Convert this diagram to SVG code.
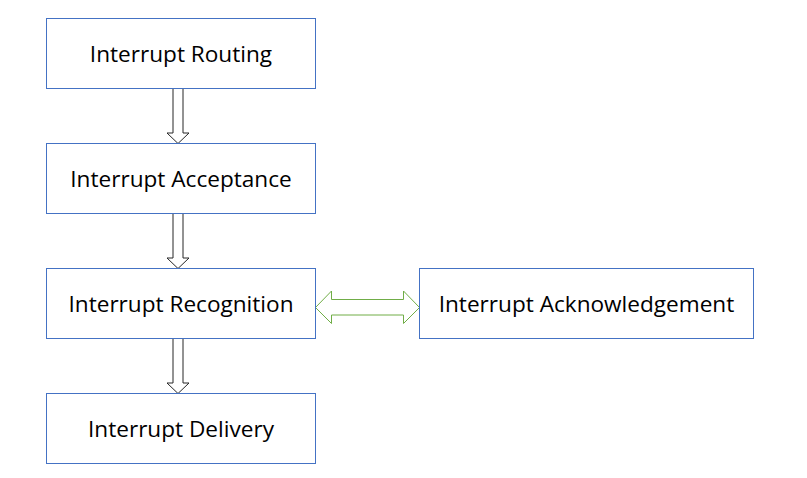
<svg xmlns="http://www.w3.org/2000/svg" width="807" height="478" viewBox="0 0 807 478">
<style>
.box{fill:#fff;stroke:#4472C4;stroke-width:1}
.lbl{font-family:"Open Sans","Liberation Sans",sans-serif;font-size:22.6px;fill:#000;text-anchor:middle}
.down{fill:#fff;stroke:#262626;stroke-width:1}
.dbl{fill:#fff;stroke:#70AD47;stroke-width:1}
</style>
<rect width="807" height="478" fill="#fff"/>
<g id="connectors">
<path class="down" d="M173,88.5 H183 V133 H189 L178,143.5 L167,133 H173 Z"/>
<path class="down" d="M173,213.5 H183 V258 H189 L178,268.5 L167,258 H173 Z"/>
<path class="down" d="M173,338.5 H183 V383 H189 L178,393.5 L167,383 H173 Z"/>
<path class="dbl" d="M315.5,307.5 L331.5,291 V299.5 H403.5 V291 L419.5,307.5 L403.5,323.5 V315 H331.5 V323.5 Z"/>
</g>
<g id="routing"><rect class="box" x="46.5" y="18.5" width="269" height="70"/><text class="lbl" x="181" y="61.5">Interrupt Routing</text></g>
<g id="acceptance"><rect class="box" x="46.5" y="143.5" width="269" height="70"/><text class="lbl" x="181" y="186.5">Interrupt Acceptance</text></g>
<g id="recognition"><rect class="box" x="46.5" y="268.5" width="269" height="70"/><text class="lbl" x="181" y="311.5">Interrupt Recognition</text></g>
<g id="delivery"><rect class="box" x="46.5" y="393.5" width="269" height="70"/><text class="lbl" x="181" y="436.5">Interrupt Delivery</text></g>
<g id="acknowledgement"><rect class="box" x="419.5" y="268.5" width="334" height="70"/><text class="lbl" x="586.5" y="311.5">Interrupt Acknowledgement</text></g>
</svg>
